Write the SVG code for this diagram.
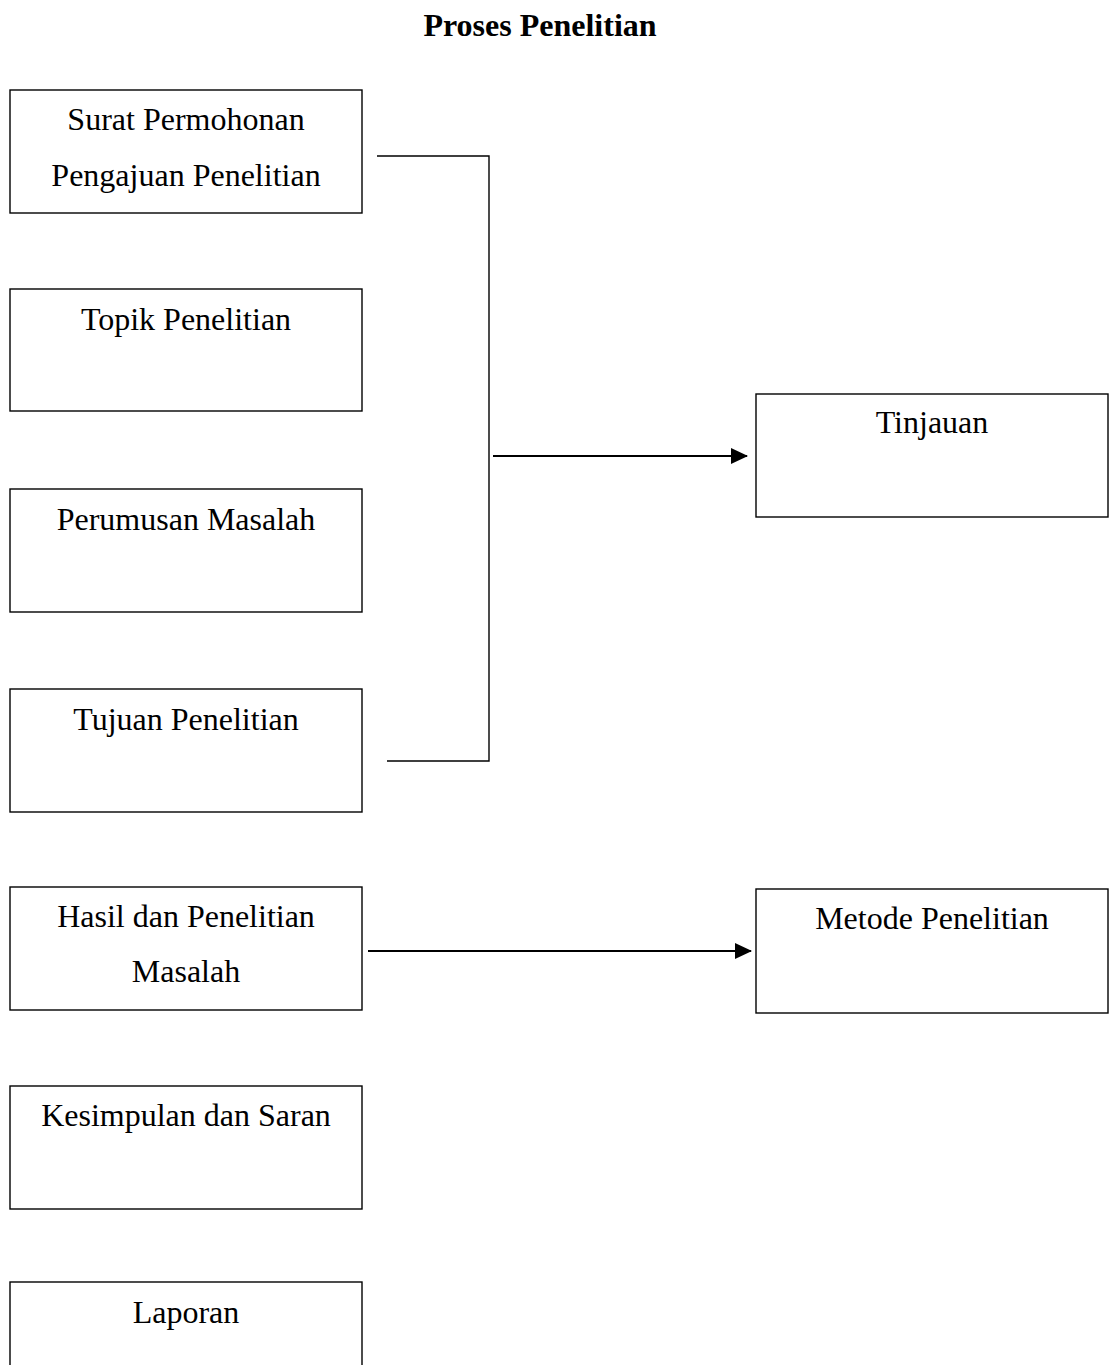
<svg xmlns="http://www.w3.org/2000/svg" width="1109" height="1365" viewBox="0 0 1109 1365">
<style>
.box{fill:#fff;stroke:#000;stroke-width:1.4}
.t{font-family:"Liberation Serif","Times New Roman",serif;font-size:32px;fill:#000;text-anchor:middle}
.title{font-weight:bold}
.ln{fill:none;stroke:#000;stroke-width:1.4}
.ar{fill:none;stroke:#000;stroke-width:2.2}
</style>
<defs>
<marker id="ah" markerWidth="8" markerHeight="8" refX="7.5" refY="4" orient="auto" markerUnits="userSpaceOnUse" viewBox="0 0 8 8">
<path d="M0,0 L8,4 L0,8 Z" fill="#000"/>
</marker>
<marker id="ah2" markerWidth="17" markerHeight="16" refX="16" refY="8" orient="auto" markerUnits="userSpaceOnUse" viewBox="0 0 17 16">
<path d="M0,0 L17,8 L0,16 Z" fill="#000"/>
</marker>
</defs>
<rect width="1109" height="1365" fill="#fff"/>
<text class="t title" x="540" y="36">Proses Penelitian</text>
<g id="n1"><rect class="box" x="10" y="90" width="352" height="123"/><text class="t" x="186" y="130">Surat Permohonan</text><text class="t" x="186" y="186">Pengajuan Penelitian</text></g>
<g id="n2"><rect class="box" x="10" y="289" width="352" height="122"/><text class="t" x="186" y="330">Topik Penelitian</text></g>
<g id="n3"><rect class="box" x="10" y="489" width="352" height="123"/><text class="t" x="186" y="530">Perumusan Masalah</text></g>
<g id="n4"><rect class="box" x="10" y="689" width="352" height="123"/><text class="t" x="186" y="730">Tujuan Penelitian</text></g>
<g id="n5"><rect class="box" x="10" y="887" width="352" height="123"/><text class="t" x="186" y="927">Hasil dan Penelitian</text><text class="t" x="186" y="982">Masalah</text></g>
<g id="n6"><rect class="box" x="10" y="1086" width="352" height="123"/><text class="t" x="186" y="1126">Kesimpulan dan Saran</text></g>
<g id="n7"><rect class="box" x="10" y="1282" width="352" height="123"/><text class="t" x="186" y="1323">Laporan</text></g>
<g id="n8"><rect class="box" x="756" y="394" width="352" height="123"/><text class="t" x="932" y="433">Tinjauan</text></g>
<g id="n9"><rect class="box" x="756" y="889" width="352" height="124"/><text class="t" x="932" y="929">Metode Penelitian</text></g>
<g id="connectors">
<path class="ln" d="M377,156 H489 V761 H387"/>
<line class="ar" x1="493" y1="456" x2="747" y2="456" marker-end="url(#ah2)"/>
<line class="ar" x1="368" y1="951" x2="751" y2="951" marker-end="url(#ah2)"/>
</g>
</svg>
